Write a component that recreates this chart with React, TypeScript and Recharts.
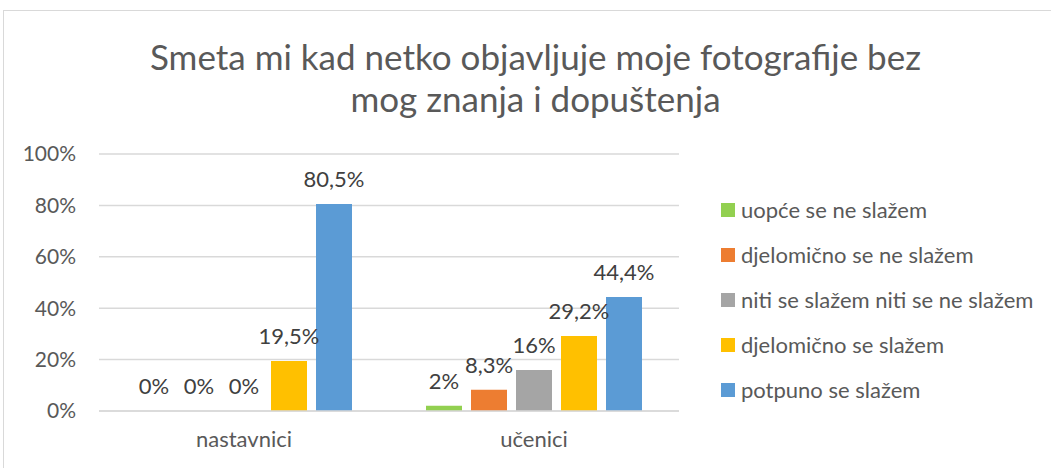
import React from "react";
import { BarChart, Bar, XAxis, YAxis, CartesianGrid, LabelList } from "recharts";

const categories = ["nastavnici", "učenici"];
const seriesNames = [
  "uopće se ne slažem",
  "djelomično se ne slažem",
  "niti se slažem niti se ne slažem",
  "djelomično se slažem",
  "potpuno se slažem",
];
const seriesColors = ["#92d050", "#ed7d31", "#a5a5a5", "#ffc000", "#5b9bd5"];
const nastavniciValues = [0, 0, 0, 19.5, 80.5];
const uceniciValues = [2, 8.3, 16, 29.2, 44.4];
const yTicks = [0, 20, 40, 60, 80, 100];
const titleLines = ["Smeta mi kad netko objavljuje moje fotografije bez", "mog znanja i dopuštenja"];

const valuesByCategory = [nastavniciValues, uceniciValues];
const data = categories.map((name, ci) => {
  const row: Record<string, any> = { name };
  seriesNames.forEach((s, si) => {
    row["s" + si] = valuesByCategory[ci][si];
  });
  return row;
});

const FONT = "Lato, 'Open Sans', sans-serif";
const fmt = (v: any) => String(v).replace(".", ",") + "%";

const renderLabel = (props: any) => {
  const { x, y, width, value } = props;
  return (
    <text
      x={Number(x) + Number(width) / 2}
      y={Number(y) - 17}
      textAnchor="middle"
      fill="#404040"
      fontSize={22}
      fontFamily={FONT}
    >
      {fmt(value)}
    </text>
  );
};

export default function App() {
  return (
    <div style={{ position: "absolute", left: 0, top: 0, width: 1051, height: 468, background: "#fff", overflow: "hidden" }}>
      <div
        style={{
          position: "absolute",
          left: 3,
          top: 10,
          width: 1060,
          height: 480,
          border: "1.5px solid #d9d9d9",
          boxSizing: "border-box",
        }}
      />
      <div
        style={{
          position: "absolute",
          left: 0,
          top: 35,
          width: 1071,
          textAlign: "center",
          fontFamily: FONT,
          fontSize: 35,
          lineHeight: "42px",
          color: "#595959",
        }}
      >
        {titleLines.map((l) => (
          <div key={l}>{l}</div>
        ))}
      </div>
      <div
        style={{
          position: "absolute",
          left: 721,
          top: 187,
          fontFamily: FONT,
          fontSize: 22,
          color: "#595959",
        }}
      >
        {seriesNames.map((n, i) => (
          <div key={n} style={{ display: "flex", alignItems: "center", height: 45, whiteSpace: "nowrap" }}>
            <div style={{ width: 14, height: 14, background: seriesColors[i], marginRight: 6 }} />
            <span>{n}</span>
          </div>
        ))}
      </div>
      <div style={{ position: "absolute", left: 0, top: 0 }}>
        <BarChart
          width={1051}
          height={468}
          data={data}
          margin={{ top: 154, right: 372, bottom: 0, left: 0 }}
          barSize={36}
          barGap={9}
        >
          <CartesianGrid vertical={false} stroke="#d9d9d9" strokeWidth={1.5} />
          <XAxis
            dataKey="name"
            axisLine={{ stroke: "#d9d9d9", strokeWidth: 1.5 }}
            tickLine={false}
            tickSize={0}
            tickMargin={20}
            height={57}
            tick={{ fill: "#595959", fontSize: 22, fontFamily: FONT }}
          />
          <YAxis
            domain={[0, 100]}
            ticks={yTicks}
            width={99}
            axisLine={false}
            tickLine={false}
            tickSize={0}
            tickMargin={23}
            tickFormatter={(v) => v + "%"}
            tick={{ fill: "#595959", fontSize: 21, fontFamily: FONT }}
          />
          {seriesNames.map((n, i) => (
            <Bar
              key={n}
              dataKey={"s" + i}
              name={n}
              fill={seriesColors[i]}
              minPointSize={0.01}
              isAnimationActive={false}
            >
              <LabelList dataKey={"s" + i} content={renderLabel} />
            </Bar>
          ))}
        </BarChart>
      </div>
    </div>
  );
}
